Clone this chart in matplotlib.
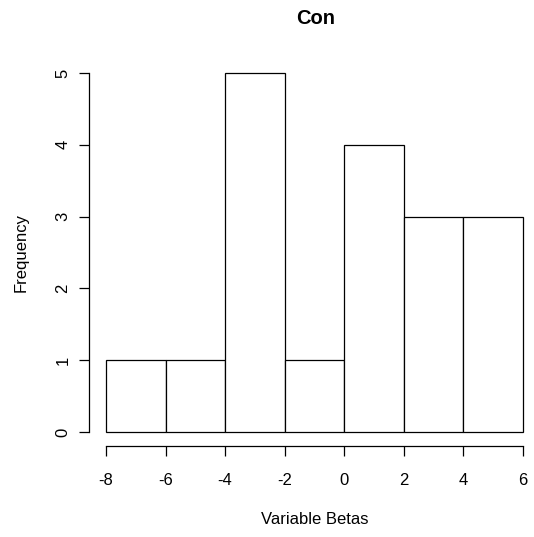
import matplotlib.pyplot as plt
import numpy as np

plt.rcParams["font.family"] = ["Liberation Sans", "DejaVu Sans"]

breaks = [-8, -6, -4, -2, 0, 2, 4, 6]
counts = [1, 1, 5, 1, 4, 3, 3]
x_ticks = [-8, -6, -4, -2, 0, 2, 4, 6]
y_ticks = [0, 1, 2, 3, 4, 5]

W, H = 534, 537
fig = plt.figure(figsize=(W / 100, H / 100), dpi=100, facecolor="white")

# plot region in pixels (R style, 4% padding around data range)
left_px, right_px = 89.3, 539.5
top_px, bottom_px = 58.6, 446.4
ax = fig.add_axes([left_px / W, 1 - bottom_px / H,
                   (right_px - left_px) / W, (bottom_px - top_px) / H])

edges = np.array(breaks)
ax.bar(edges[:-1], counts, width=np.diff(edges), align="edge",
       facecolor="white", edgecolor="black", linewidth=0.9)

ax.set_xlim(-8.56, 6.56)
ax.set_ylim(-0.2, 5.2)

for s in ["top", "right"]:
    ax.spines[s].set_visible(False)
ax.spines["left"].set_bounds(0, 5)
ax.spines["bottom"].set_bounds(-8, 6)
ax.spines["left"].set_linewidth(0.9)
ax.spines["bottom"].set_linewidth(0.9)

ax.set_xticks(x_ticks)
ax.set_xticklabels([str(v) for v in x_ticks])
ax.set_yticks(y_ticks)
ax.set_yticklabels([str(v) for v in y_ticks], rotation=90, va="center")
ax.tick_params(direction="out", length=7.5, width=0.9, labelsize=12)
ax.tick_params(axis="x", pad=12)
ax.tick_params(axis="y", pad=6)

fig.text(316 / W, 1 - 19 / H, "Con", ha="center", va="center",
         fontsize=14.5, fontweight="bold")
fig.text(315 / W, 1 - 520 / H, "Variable Betas", ha="center", va="center",
         fontsize=12)
fig.text(21 / W, 1 - 252 / H, "Frequency", ha="center", va="center",
         fontsize=12, rotation=90)

fig.savefig("out.png", dpi=100, facecolor="white")
